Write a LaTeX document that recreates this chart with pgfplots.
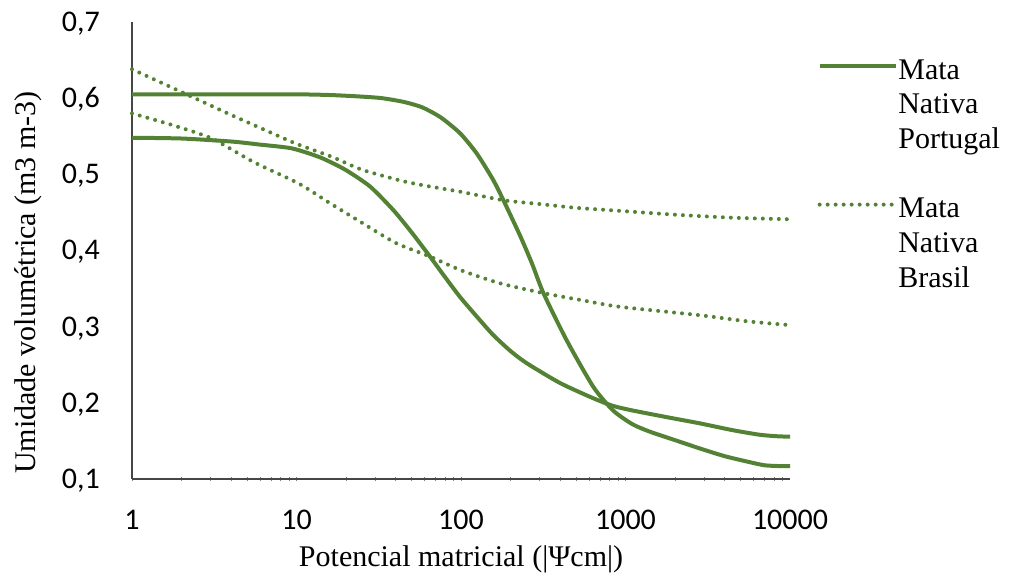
\documentclass[border=0pt]{standalone}
\usepackage{pgfplots}
\pgfplotsset{compat=1.18}
\usepackage{fontspec}
\setmainfont{Liberation Serif}
\newfontfamily\carlito{Carlito}

\definecolor{verde}{RGB}{84,130,53}
\definecolor{eixo}{RGB}{70,70,70}

\begin{document}
\begin{tikzpicture}
\begin{axis}[
  scale only axis,
  width=493.5pt, height=342.75pt,
  xmode=log,
  xmin=1, xmax=10000,
  ymin=0.1, ymax=0.7,
  axis lines=left,
  axis line style={-, eixo, line width=1pt},
  major tick length=0pt,
  xtick={1,10,100,1000,10000},
  xticklabels={1,10,100,1000,10000},
  ytick={0.1,0.2,0.3,0.4,0.5,0.6,0.7},
  yticklabels={{0,1},{0,2},{0,3},{0,4},{0,5},{0,6},{0,7}},
  ticklabel style={font=\carlito\fontsize{22.5}{27}\selectfont, inner sep=0pt},
  xticklabel style={anchor=north, yshift=-23.25pt},
  yticklabel style={anchor=base east, xshift=-24pt, yshift=-7.1pt},
  /pgf/number format/assume math mode=true,
  xlabel={Potencial matricial (|Ψcm|)},
  ylabel={Umidade volumétrica (m3 m-3)},
  label style={font=\fontsize{22.5}{27}\selectfont, inner sep=0pt},
  xlabel style={at={(axis description cs:0.5,-0.1904)}, anchor=base},
  ylabel style={at={(axis description cs:-0.158,0.43)}, anchor=center, rotate=0},
  clip=false,
  legend style={draw=none, fill=none, inner sep=0pt, outer sep=0pt,
    at={(axis description cs:1.042,0.933)}, anchor=north west,
    nodes={inner sep=0pt, anchor=base west, text height=20pt, text depth=6pt,
      font=\fontsize{22.5}{26.25}\selectfont},
    row sep=0pt, column sep=0pt},
  legend cell align=left,
  legend image code/.code={
    \path[draw=none, fill=none] (0pt,-6pt) rectangle (59pt,20pt);
    \draw[#1] (0pt,10pt) -- (57pt,10pt);},
]
% Mata Nativa Portugal
\addplot[verde, line width=3pt, smooth, tension=0.4] coordinates {
  (1,0.605) (3,0.605) (10,0.605) (16.4,0.604) (25,0.602) (33,0.600)
  (45,0.595) (58,0.588) (75,0.575) (98.6,0.554) (125,0.527) (157,0.4925)
  (181,0.466) (228,0.420) (270,0.383) (317,0.344) (439,0.282) (637,0.221)
  (840,0.190) (1100,0.172) (1410,0.162) (2000,0.151) (2838,0.140)
  (4000,0.130) (5710,0.122) (7000,0.118) (8500,0.117) (10000,0.117)
};
\addlegendentry{Mata}
\addlegendimage{empty legend}\addlegendentry{Nativa}
\addlegendimage{empty legend}\addlegendentry{Portugal}
\addlegendimage{empty legend}\addlegendentry{}
% Mata Nativa Brasil
\addplot[verde, line width=3pt, line cap=round, dash pattern=on 0pt off 6pt, smooth, tension=0.4] coordinates {
  (1,0.638) (2.3,0.602) (4,0.578) (6.46,0.558) (10,0.540) (16.4,0.523)
  (25,0.506) (44.4,0.491) (64.8,0.484) (100,0.477) (181,0.466) (300,0.461)
  (500,0.456) (926,0.452) (2000,0.447) (4500,0.443) (10000,0.441)
};
\addlegendentry{Mata}
\addlegendimage{empty legend}\addlegendentry{Nativa}
\addlegendimage{empty legend}\addlegendentry{Brasil}
% segunda curva continua
\addplot[verde, line width=3pt, smooth, tension=0.4, forget plot] coordinates {
  (1,0.548) (2,0.547) (4.05,0.543) (6,0.539) (9.4,0.534) (14,0.522)
  (19.8,0.506) (28,0.484) (38.8,0.453) (50,0.424) (64.8,0.392) (80,0.365)
  (98.6,0.339) (125,0.313) (157,0.289) (200,0.268) (251,0.252)
  (400,0.226) (637,0.206) (839,0.196) (1100,0.190) (1800,0.181)
  (2838,0.173) (4500,0.164) (6580,0.158) (8500,0.156) (10000,0.1556)
};
% segunda curva pontilhada
\addplot[verde, line width=3pt, line cap=round, dash pattern=on 0pt off 6pt, smooth, tension=0.4, forget plot] coordinates {
  (1,0.580) (1.8,0.564) (3.06,0.547) (5.5,0.516) (10.3,0.488) (16,0.462)
  (24.3,0.438) (40,0.410) (64.8,0.392) (100,0.374) (172,0.357) (317,0.344)
  (600,0.333) (926,0.326) (2830,0.315) (5500,0.307) (10000,0.302)
};
\coordinate (bbA) at (rel axis cs:-0.2006,-0.2144);
\coordinate (bbB) at (rel axis cs:1.3328,1.0481);
\end{axis}
\pgfresetboundingbox
\path[use as bounding box] (bbA) rectangle (bbB);
\end{tikzpicture}
\end{document}
